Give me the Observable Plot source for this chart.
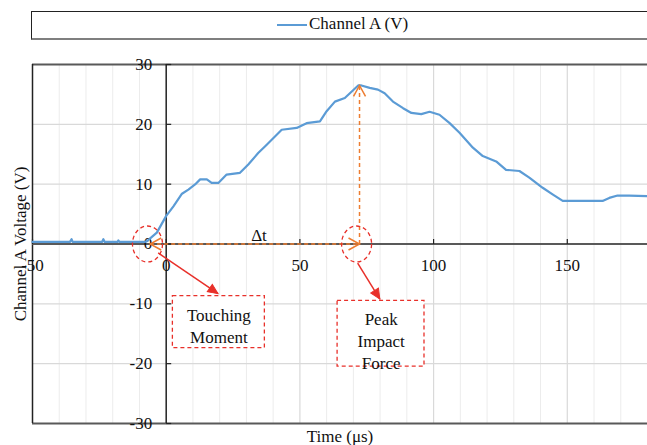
<!DOCTYPE html>
<html><head><meta charset="utf-8">
<script src="https://cdn.jsdelivr.net/npm/d3@7"></script>
<script src="https://cdn.jsdelivr.net/npm/@observablehq/plot@0.6"></script>
<style>
body{margin:0;background:#fff;font-family:"Liberation Serif","Times New Roman",Times,"DejaVu Serif",serif;}
#legend{position:relative;height:54px;width:647px;overflow:hidden;}
#legend .box{position:absolute;left:31px;top:11px;width:640px;height:26px;border-top:1.5px solid #222;border-left:1.5px solid #222;border-bottom:2px solid #7f7f7f;}
#legend .swatch{position:absolute;left:277px;top:24px;width:30px;height:0;border-top:2px solid #5b9bd5;}
#legend .label{position:absolute;left:309px;top:13px;font-size:17px;line-height:22px;color:#111;white-space:nowrap;}
#chart{width:647px;}
#chart svg, #chart svg text{font-family:"Liberation Serif","Times New Roman",Times,"DejaVu Serif",serif !important;}
</style></head><body>
<div id="legend"><div class="box"></div><div class="swatch"></div><div class="label">Channel A (V)</div></div>
<div id="chart"></div>
<script>
// ---- data ----
const time = [-50, -36, -35.4, -35, -24, -23.5, -23, -18.2, -17.9, -17.5, -8, -7, -6, -3.5, 0, 2.7, 5.9, 8.3, 10.8, 12.7, 15.2, 17, 19.5, 22.6, 27.6, 30.7, 34.4, 37.6, 43.2, 48.8, 52.5, 57.5, 60, 63.1, 66.8, 68.7, 71.8, 73, 76.1, 79.2, 81.7, 84.8, 88.6, 91.7, 95.4, 98.5, 102.2, 106, 109.7, 114.7, 118.4, 123.4, 127.1, 132.1, 135.8, 140.8, 144.5, 148.3, 155.7, 163.2, 165.7, 168.8, 173.1, 180];
const voltage = [0.35, 0.35, 0.8, 0.35, 0.35, 0.8, 0.35, 0.35, 0.6, 0.35, 0.35, 0.5, 0.95, 1.9, 4.7, 6.3, 8.4, 9.1, 9.95, 10.8, 10.8, 10.2, 10.2, 11.6, 11.9, 13.3, 15.2, 16.6, 19.1, 19.4, 20.2, 20.5, 22.2, 23.8, 24.4, 25.2, 26.5, 26.5, 26.1, 25.8, 25.2, 23.8, 22.7, 21.9, 21.7, 22.1, 21.6, 20.2, 18.6, 16.1, 14.7, 13.8, 12.4, 12.2, 11.1, 9.4, 8.3, 7.2, 7.2, 7.2, 7.7, 8.1, 8.1, 8.0];

const xTicks = [-50, 0, 50, 100, 150];
const yTicks = [-30, -20, -10, 0, 10, 20, 30];
const xMinorGrid = [-40, -30, -20, -10, 10, 20, 30, 40, 60, 70, 80, 90, 110, 120, 130, 140, 160, 170];
const xMajorGrid = [50, 100, 150];
const yGrid = [-20, -10, 10, 20];

const xTitle = "Time (μs)";
const yTitle = "Channel A Voltage (V)";

// annotation values
const touchTime = -6;
const peakTime = 72.3;
const peakVoltage = 26.5;
const deltaLabel = [{x: 34.7, y: 0, text: "Δt"}];
const circles = [{x: -7, y: 0}, {x: 71.2, y: 0}];
const redArrows = [
  {x1: -3, y1: -1.5, x2: 19.4, y2: -8.3},
  {x1: 71.6, y1: -3.2, x2: 79.9, y2: -9.2}
];
const boxes = [
  {x1: 2.5, x2: 36.9, y1: -8.7, y2: -17.4},
  {x1: 64.1, x2: 96.6, y1: -9.5, y2: -20.5}
];
const boxLabels = [
  {x: 19.7, y: -13.45, text: "Touching\nMoment"},
  {x: 80.4, y: -16.0, text: "Peak\nImpact\nForce"}
];

// ---- build ----
const series = time.map((t, i) => ({t, v: voltage[i]}));
const W = 647, H = 391, mL = 32, mR = 0, mT = 10, mB = 22;
const xDomain = [-50, 180], yDomain = [-30, 30];
const px = d3.scaleLinear(xDomain, [mL, W - mR]);
const py = d3.scaleLinear(yDomain, [H - mB, mT]);
const angleOf = (d) => Math.atan2(py(d.y2) - py(d.y1), px(d.x2) - px(d.x1)) * 180 / Math.PI;

const orange = "#ed7d31", red = "#e8302a", blue = "#5b9bd5";
const serif = '"Liberation Serif","Times New Roman",Times,"DejaVu Serif",serif';

const chevron = {draw(ctx) { ctx.moveTo(-11, -6); ctx.lineTo(0, 0); ctx.lineTo(-11, 6); }};
const tri = {draw(ctx) { ctx.moveTo(0, 0); ctx.lineTo(-10, -4.5); ctx.lineTo(-10, 4.5); ctx.closePath(); }};
const ellipse = {draw(ctx) {
  const rx = 15, ry = 18, k = 0.5523;
  ctx.moveTo(rx, 0);
  ctx.bezierCurveTo(rx, ry * k, rx * k, ry, 0, ry);
  ctx.bezierCurveTo(-rx * k, ry, -rx, ry * k, -rx, 0);
  ctx.bezierCurveTo(-rx, -ry * k, -rx * k, -ry, 0, -ry);
  ctx.bezierCurveTo(rx * k, -ry, rx, -ry * k, rx, 0);
  ctx.closePath();
}};
const yTick = {draw(ctx) { ctx.moveTo(0, 0); ctx.lineTo(5, 0); }};
const xTick = {draw(ctx) { ctx.moveTo(0, 0); ctx.lineTo(0, -5); }};

const orangeHeads = [
  {x: touchTime, y: 0, a: 180},
  {x: peakTime, y: 0, a: 0},
  {x: peakTime, y: peakVoltage, a: -90}
];

const chart = Plot.plot({
  width: W, height: H,
  marginLeft: mL, marginRight: mR, marginTop: mT, marginBottom: mB,
  style: {fontFamily: serif, fontSize: "17px", background: "#fff", overflow: "visible"},
  x: {domain: xDomain, axis: null},
  y: {domain: yDomain, axis: null},
  marks: [
    Plot.ruleX(xMinorGrid, {stroke: "#ececec", strokeWidth: 1}),
    Plot.ruleX(xMajorGrid, {stroke: "#d9d9d9", strokeWidth: 1.2}),
    Plot.ruleY(yGrid, {stroke: "#d9d9d9", strokeWidth: 1.2}),
    // frame
    Plot.ruleY([yDomain[1]], {stroke: "#595959", strokeWidth: 2}),
    Plot.ruleY([yDomain[0]], {stroke: "#595959", strokeWidth: 2}),
    Plot.ruleX([xDomain[0]], {stroke: "#222", strokeWidth: 1.5}),
    // annotation boxes (white filled)
    Plot.rect(boxes, {x1: "x1", x2: "x2", y1: "y1", y2: "y2", fill: "#fff", stroke: red, strokeWidth: 1.3, strokeDasharray: "4,3"}),
    Plot.text(boxLabels, {x: "x", y: "y", text: "text", fill: "#111", fontSize: 17, fontFamily: serif, lineHeight: 1.3, lineAnchor: "middle"}),
    // axes through origin
    Plot.ruleY([0], {stroke: "#595959", strokeWidth: 2}),
    Plot.ruleX([0], {stroke: "#222", strokeWidth: 1.5}),
    Plot.dot(yTicks, {x: 0, y: d => d, symbol: yTick, stroke: "#222", fill: "none", strokeWidth: 1.2}),
    Plot.dot(xTicks, {x: d => d, y: 0, symbol: xTick, stroke: "#222", fill: "none", strokeWidth: 1.2}),
    Plot.text(yTicks, {x: 0, y: d => d, text: d => String(d), textAnchor: "end", dx: -14, lineAnchor: "middle", fill: "#111", fontFamily: serif}),
    Plot.text(xTicks, {x: d => d, y: 0, text: d => String(d), textAnchor: "middle", dy: 22, lineAnchor: "middle", fill: "#111", fontFamily: serif}),
    // axis titles
    Plot.text([yTitle], {frameAnchor: "left", dx: -12, rotate: -90, textAnchor: "middle", fill: "#111", lineAnchor: "middle", fontFamily: serif}),
    Plot.text([xTitle], {frameAnchor: "bottom", dy: 13, textAnchor: "middle", fill: "#111", lineAnchor: "middle", fontFamily: serif}),
    // data
    Plot.line(series, {x: "t", y: "v", stroke: blue, strokeWidth: 2.2}),
    // orange Δt and peak arrows
    Plot.link([{x1: touchTime, y1: 0, x2: peakTime, y2: 0}, {x1: peakTime, y1: 0, x2: peakTime, y2: peakVoltage}],
      {x1: "x1", y1: "y1", x2: "x2", y2: "y2", stroke: orange, strokeWidth: 1.5, strokeDasharray: "4,3"}),
    Plot.dot(orangeHeads, {x: "x", y: "y", rotate: "a", symbol: chevron, stroke: orange, fill: "none", strokeWidth: 1.5}),
    Plot.text(deltaLabel, {x: "x", y: "y", text: "text", dy: -8, lineAnchor: "middle", fill: "#111", fontSize: 17, fontFamily: serif}),
    // red circles and arrows
    Plot.dot(circles, {x: "x", y: "y", symbol: ellipse, stroke: red, fill: "none", strokeWidth: 1.3, strokeDasharray: "4,3"}),
    Plot.link(redArrows, {x1: "x1", y1: "y1", x2: "x2", y2: "y2", stroke: red, strokeWidth: 1.5}),
    Plot.dot(redArrows, {x: "x2", y: "y2", rotate: d => angleOf(d), symbol: tri, fill: red, stroke: red, strokeWidth: 1})
  ]
});
document.getElementById("chart").appendChild(chart);
</script>
</body></html>
